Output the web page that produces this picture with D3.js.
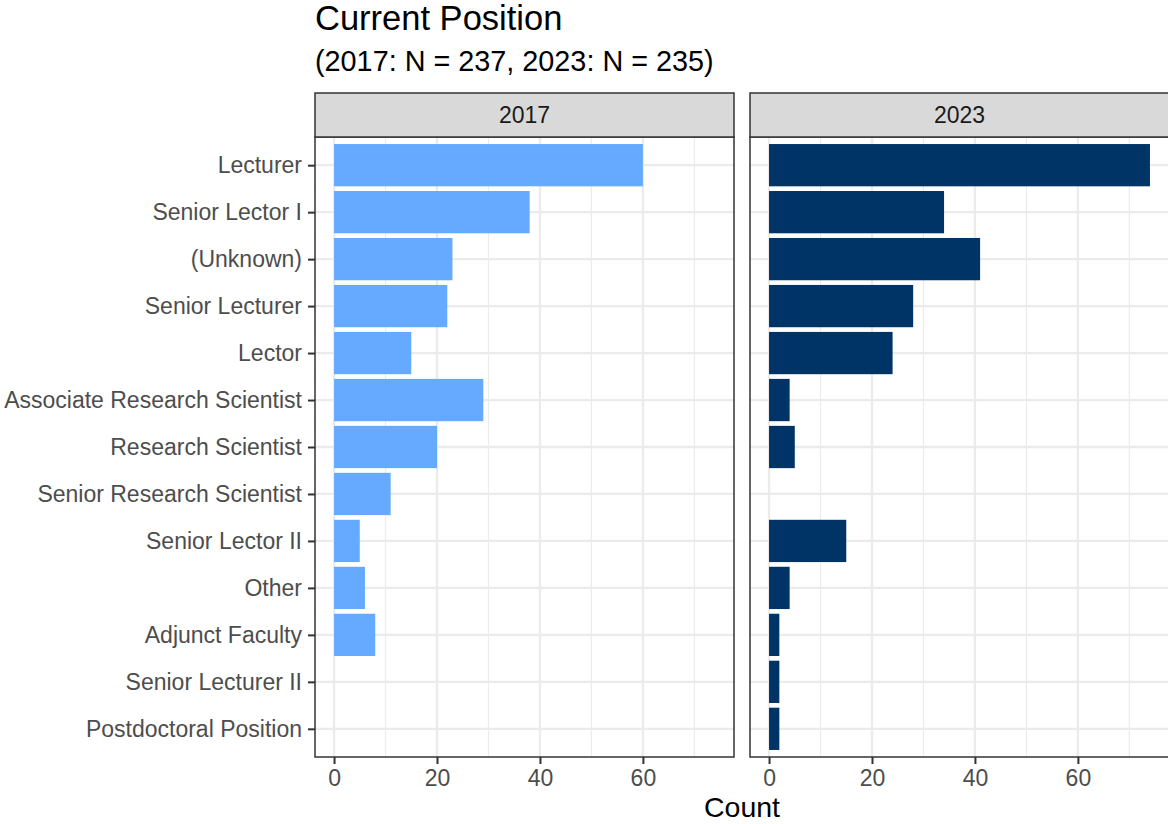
<!DOCTYPE html>
<html>
<head>
<meta charset="utf-8">
<script src="https://cdn.jsdelivr.net/npm/d3@7"></script>
<style>
  body { margin: 0; background: #fff; }
  svg { display: block; font-family: "Liberation Sans", Arial, Helvetica, sans-serif; }
</style>
</head>
<body>
<div id="chart"></div>
<script>
// categories, top to bottom
const positions = ["Lecturer", "Senior Lector I", "(Unknown)", "Senior Lecturer", "Lector",
  "Associate Research Scientist", "Research Scientist", "Senior Research Scientist",
  "Senior Lector II", "Other", "Adjunct Faculty", "Senior Lecturer II", "Postdoctoral Position"]
const years = ["2017", "2023"]
const counts2017 = [60, 38, 23, 22, 15, 29, 20, 11, 5, 6, 8, 0, 0]
const counts2023 = [74, 34, 41, 28, 24, 4, 5, 0, 15, 4, 2, 2, 2]
const xTicks = [0, 20, 40, 60]
const xMinor = [10, 30, 50, 70]
const yearColors = { "2017": "#66aaff", "2023": "#003366" }

const W = 1168, H = 824
const panelW = 419
const panelLeft = [315, 750]
const stripTop = 93, stripBottom = 137, plotBottom = 757

const svg = d3.select("#chart").append("svg")
  .attr("width", W).attr("height", H)

// title and subtitle
svg.append("text").attr("x", 315).attr("y", 30)
  .attr("font-size", 34.5).attr("fill", "#000").text("Current Position")
svg.append("text").attr("x", 315).attr("y", 71)
  .attr("font-size", 28.8).attr("fill", "#000").text("(2017: N = 237, 2023: N = 235)")

// scales
const maxCount = d3.max(counts2017.concat(counts2023))
const pad = maxCount * 0.05
const x = d3.scaleLinear().domain([-pad, maxCount + pad]).range([0, panelW])

const step = (plotBottom - stripBottom) / (positions.length + 0.2)
const y = d3.scalePoint().domain(positions)
  .range([stripBottom + 0.6 * step, plotBottom - 0.6 * step])
const barH = step * 0.9

const seriesByYear = { "2017": counts2017, "2023": counts2023 }

years.forEach(function(year, i) {
  const g = svg.append("g").attr("transform", `translate(${panelLeft[i]},0)`)
  const data = positions.map((p, j) => ({ pos: p, n: seriesByYear[year][j] }))

  // panel background
  g.append("rect").attr("x", 0).attr("y", stripBottom)
    .attr("width", panelW).attr("height", plotBottom - stripBottom).attr("fill", "#fff")

  // minor grid
  g.selectAll(".minor").data(xMinor).join("line")
    .attr("x1", d => x(d)).attr("x2", d => x(d))
    .attr("y1", stripBottom).attr("y2", plotBottom)
    .attr("stroke", "#ebebeb").attr("stroke-width", 1.2)

  // major grid
  g.selectAll(".majorx").data(xTicks).join("line")
    .attr("x1", d => x(d)).attr("x2", d => x(d))
    .attr("y1", stripBottom).attr("y2", plotBottom)
    .attr("stroke", "#ebebeb").attr("stroke-width", 2.3)
  g.selectAll(".majory").data(positions).join("line")
    .attr("x1", 0).attr("x2", panelW)
    .attr("y1", d => y(d)).attr("y2", d => y(d))
    .attr("stroke", "#ebebeb").attr("stroke-width", 2.3)

  // bars
  g.selectAll(".bar").data(data.filter(d => d.n > 0)).join("rect")
    .attr("x", x(0))
    .attr("y", d => y(d.pos) - barH / 2)
    .attr("width", d => x(d.n) - x(0))
    .attr("height", barH)
    .attr("fill", yearColors[year])

  // panel border
  g.append("rect").attr("x", 0).attr("y", stripBottom)
    .attr("width", panelW).attr("height", plotBottom - stripBottom)
    .attr("fill", "none").attr("stroke", "#333333").attr("stroke-width", 1.5)

  // strip
  g.append("rect").attr("x", 0).attr("y", stripTop)
    .attr("width", panelW).attr("height", stripBottom - stripTop)
    .attr("fill", "#d9d9d9").attr("stroke", "#333333").attr("stroke-width", 1.5)
  g.append("text").attr("x", panelW / 2).attr("y", 123)
    .attr("text-anchor", "middle").attr("font-size", 23).attr("fill", "#1a1a1a")
    .text(year)

  // x axis
  const xAxis = g.append("g").attr("transform", `translate(0,${plotBottom})`)
    .call(d3.axisBottom(x).tickValues(xTicks).tickSize(7).tickPadding(6).tickFormat(d3.format("d")))
  xAxis.select(".domain").remove()
  xAxis.selectAll("line").attr("stroke", "#333333").attr("stroke-width", 2)
  xAxis.selectAll("text").attr("font-size", 23).attr("fill", "#4d4d4d")
    .attr("font-family", "Liberation Sans, Arial, sans-serif")

  // y axis only on first panel
  if (i === 0) {
    const yAxis = g.append("g")
      .call(d3.axisLeft(y).tickSize(7).tickPadding(6))
    yAxis.select(".domain").remove()
    yAxis.selectAll("line").attr("stroke", "#333333").attr("stroke-width", 2)
    yAxis.selectAll("text").attr("font-size", 23).attr("fill", "#4d4d4d")
      .attr("font-family", "Liberation Sans, Arial, sans-serif")
  }
})

// x axis title
svg.append("text").attr("x", (panelLeft[0] + panelLeft[1] + panelW) / 2).attr("y", 817)
  .attr("text-anchor", "middle").attr("font-size", 28.5).attr("fill", "#000").text("Count")
</script>
</body>
</html>
